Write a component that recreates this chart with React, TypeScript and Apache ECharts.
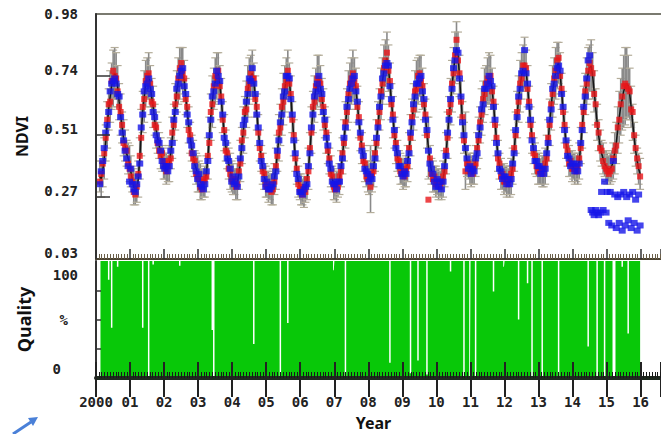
import React, { useEffect, useRef } from 'react';
import * as echarts from 'echarts';

const years = [2000, 2001, 2002, 2003, 2004, 2005, 2006, 2007, 2008, 2009, 2010, 2011, 2012, 2013, 2014, 2015];
const compositeDoy = [1, 17, 33, 49, 65, 81, 97, 113, 129, 145, 161, 177, 193, 209, 225, 241, 257, 273, 289, 305, 321, 337, 353];
const yearTicks = [2000, 2001, 2002, 2003, 2004, 2005, 2006, 2007, 2008, 2009, 2010, 2011, 2012, 2013, 2014, 2015, 2016];
const ndviTickLabels = [0.03, 0.27, 0.51, 0.74];
const ndviTopLabel = [0.98];

const meanNdvi: (number | null)[][] = [
  [null, null, 0.35, 0.34, 0.37, 0.42, 0.48, 0.55, 0.61, 0.66, 0.70, 0.73, 0.75, 0.74, 0.70, 0.64, 0.59, 0.54, 0.50, 0.47, 0.44, 0.42, 0.40],
  [0.37, 0.34, 0.31, 0.30, 0.30, 0.34, 0.42, 0.52, 0.60, 0.66, 0.71, 0.73, 0.74, 0.70, 0.66, 0.62, 0.57, 0.53, 0.50, 0.47, 0.44, 0.42, 0.40],
  [0.39, 0.38, 0.38, 0.40, 0.44, 0.50, 0.56, 0.62, 0.68, 0.72, 0.75, 0.77, 0.76, 0.72, 0.66, 0.60, 0.55, 0.50, 0.46, 0.43, 0.40, 0.38, 0.36],
  [0.35, 0.33, 0.32, 0.32, 0.33, 0.36, 0.42, 0.50, 0.58, 0.64, 0.69, 0.72, 0.74, 0.75, 0.71, 0.65, 0.58, 0.52, 0.47, 0.43, 0.40, 0.37, 0.35],
  [0.34, 0.33, 0.32, 0.33, 0.36, 0.41, 0.47, 0.53, 0.58, 0.63, 0.68, 0.72, 0.74, 0.75, 0.72, 0.66, 0.60, 0.53, 0.47, 0.42, 0.38, 0.35, 0.33],
  [0.32, 0.31, 0.31, 0.30, 0.31, 0.34, 0.38, 0.44, 0.50, 0.55, 0.60, 0.65, 0.69, 0.73, 0.75, 0.72, 0.66, 0.58, 0.50, 0.43, 0.37, 0.33, 0.31],
  [0.30, 0.29, 0.29, 0.30, 0.33, 0.38, 0.45, 0.53, 0.60, 0.65, 0.69, 0.72, 0.73, 0.70, 0.66, 0.61, 0.56, 0.51, 0.46, 0.41, 0.37, 0.34, 0.32],
  [0.31, 0.31, 0.32, 0.34, 0.38, 0.43, 0.49, 0.55, 0.61, 0.66, 0.70, 0.72, 0.74, 0.73, 0.69, 0.63, 0.57, 0.51, 0.46, 0.42, 0.39, 0.36, 0.35],
  [0.34, 0.34, 0.35, 0.38, 0.43, 0.49, 0.55, 0.61, 0.67, 0.72, 0.76, 0.79, 0.81, 0.77, 0.71, 0.64, 0.58, 0.52, 0.47, 0.43, 0.40, 0.38, 0.37],
  [0.36, 0.36, 0.37, 0.40, 0.45, 0.51, 0.57, 0.62, 0.67, 0.70, 0.72, 0.74, 0.73, 0.69, 0.64, 0.58, 0.52, 0.46, 0.41, 0.37, 0.35, 0.34, 0.33],
  [0.33, 0.32, 0.32, 0.32, 0.34, 0.38, 0.44, 0.51, 0.58, 0.64, 0.70, 0.76, 0.81, 0.85, 0.82, 0.74, 0.65, 0.57, 0.50, 0.45, 0.41, 0.39, 0.38],
  [0.37, 0.37, 0.38, 0.41, 0.45, 0.50, 0.55, 0.60, 0.64, 0.68, 0.70, 0.72, 0.73, 0.73, 0.69, 0.63, 0.56, 0.49, 0.43, 0.39, 0.36, 0.35, 0.34],
  [0.34, 0.33, 0.33, 0.33, 0.35, 0.39, 0.45, 0.52, 0.59, 0.65, 0.70, 0.74, 0.77, 0.79, 0.76, 0.70, 0.63, 0.56, 0.50, 0.45, 0.42, 0.40, 0.38],
  [0.38, 0.37, 0.37, 0.37, 0.39, 0.43, 0.49, 0.56, 0.62, 0.68, 0.72, 0.75, 0.78, 0.79, 0.75, 0.68, 0.61, 0.54, 0.48, 0.44, 0.41, 0.40, 0.39],
  [0.39, 0.38, 0.38, 0.38, 0.41, 0.47, 0.54, 0.61, 0.67, 0.72, 0.75, 0.77, 0.78, 0.74, 0.68, 0.62, 0.56, 0.51, 0.47, 0.44, 0.42, 0.40, 0.39],
  [0.38, 0.38, 0.38, 0.39, 0.41, 0.44, 0.48, 0.53, 0.58, 0.62, 0.65, 0.68, 0.70, 0.71, 0.70, 0.67, 0.62, 0.56, 0.50, 0.45, 0.41, 0.38, 0.36],
];

const terraNdvi: (number | null)[][] = [
  [null, null, 0.33, 0.36, 0.40, 0.44, 0.50, 0.57, 0.63, 0.64, 0.72, 0.76, 0.74, 0.73, 0.68, 0.62, 0.60, 0.55, 0.48, 0.46, 0.45, 0.40, 0.38],
  [0.35, 0.33, 0.29, 0.28, 0.31, 0.36, 0.43, 0.50, 0.62, 0.65, 0.72, 0.74, 0.75, 0.71, 0.64, 0.63, 0.55, 0.54, 0.48, 0.45, 0.43, 0.44, 0.41],
  [0.40, 0.37, 0.39, 0.41, 0.42, 0.52, 0.55, 0.63, 0.66, 0.73, 0.77, 0.79, 0.75, 0.73, 0.65, 0.62, 0.53, 0.51, 0.44, 0.42, 0.41, 0.36, 0.35],
  [0.34, 0.31, 0.30, 0.33, 0.34, 0.35, 0.43, 0.48, 0.60, 0.63, 0.70, 0.74, 0.73, 0.76, 0.70, 0.66, 0.57, 0.53, 0.45, 0.44, 0.38, 0.36, 0.34],
  [0.33, 0.34, 0.31, 0.32, 0.37, 0.40, 0.49, 0.52, 0.60, 0.61, 0.69, 0.71, 0.75, 0.73, 0.73, 0.65, 0.62, 0.52, 0.46, 0.43, 0.37, 0.36, 0.32],
  [0.31, 0.30, 0.32, 0.29, 0.30, 0.33, 0.39, 0.43, 0.52, 0.54, 0.62, 0.64, 0.70, 0.72, 0.76, 0.71, 0.67, 0.57, 0.51, 0.42, 0.38, 0.32, 0.30],
  [0.31, 0.28, 0.30, 0.29, 0.34, 0.37, 0.46, 0.52, 0.62, 0.64, 0.70, 0.73, 0.72, 0.71, 0.65, 0.62, 0.55, 0.52, 0.45, 0.42, 0.36, 0.35, 0.31],
  [0.30, 0.32, 0.31, 0.35, 0.37, 0.44, 0.48, 0.56, 0.60, 0.67, 0.71, 0.73, 0.75, 0.72, 0.70, 0.62, 0.58, 0.50, 0.47, 0.41, 0.40, 0.35, 0.34],
  [0.35, 0.31, 0.36, 0.37, 0.44, 0.48, 0.56, 0.60, 0.68, 0.71, 0.77, 0.80, 0.83, 0.76, 0.72, 0.63, 0.59, 0.51, 0.48, 0.42, 0.41, 0.37, 0.36],
  [0.37, 0.35, 0.38, 0.39, 0.46, 0.50, 0.58, 0.61, 0.68, 0.69, 0.74, 0.75, 0.72, 0.70, 0.63, 0.59, 0.51, 0.26, 0.42, 0.36, 0.34, 0.35, 0.32],
  [0.32, 0.33, 0.31, 0.33, 0.35, 0.37, 0.45, 0.50, 0.60, 0.63, 0.71, 0.75, 0.82, 0.88, 0.80, 0.75, 0.64, 0.58, 0.49, 0.37, 0.40, 0.40, 0.37],
  [0.38, 0.36, 0.39, 0.40, 0.46, 0.49, 0.56, 0.59, 0.65, 0.67, 0.71, 0.73, 0.72, 0.74, 0.68, 0.64, 0.55, 0.50, 0.42, 0.40, 0.35, 0.36, 0.33],
  [0.33, 0.34, 0.32, 0.34, 0.36, 0.38, 0.46, 0.51, 0.60, 0.64, 0.71, 0.73, 0.78, 0.78, 0.77, 0.69, 0.64, 0.55, 0.51, 0.44, 0.43, 0.39, 0.37],
  [0.37, 0.38, 0.36, 0.38, 0.40, 0.42, 0.50, 0.55, 0.63, 0.67, 0.73, 0.76, 0.80, 0.81, 0.74, 0.69, 0.60, 0.55, 0.47, 0.45, 0.40, 0.41, 0.38],
  [0.38, 0.39, 0.37, 0.39, 0.42, 0.46, 0.55, 0.60, 0.68, 0.71, 0.76, 0.79, 0.77, 0.75, 0.67, 0.63, 0.55, 0.52, 0.46, 0.45, 0.41, 0.39, 0.38],
  [0.37, 0.36, 0.37, 0.38, 0.42, 0.45, 0.47, 0.54, 0.57, 0.63, 0.66, 0.70, 0.71, 0.70, 0.69, 0.68, 0.61, 0.60, 0.51, 0.46, 0.42, 0.39, 0.35],
];

const aquaNdvi: (number | null)[][] = [
  [null, null, 0.32, 0.37, 0.41, 0.46, 0.52, 0.55, 0.60, 0.68, 0.71, 0.72, 0.73, 0.71, 0.67, 0.66, 0.58, 0.52, 0.49, 0.45, 0.42, 0.39, 0.33],
  [0.38, 0.32, 0.30, 0.29, 0.32, 0.35, 0.40, 0.54, 0.59, 0.68, 0.70, 0.71, 0.73, 0.69, 0.67, 0.60, 0.58, 0.51, 0.49, 0.48, 0.45, 0.41, 0.39],
  [0.38, 0.39, 0.37, 0.39, 0.45, 0.48, 0.57, 0.60, 0.69, 0.71, 0.74, 0.76, 0.77, 0.70, 0.67, 0.59, 0.56, 0.49, 0.47, 0.44, 0.39, 0.37, 0.34],
  [0.36, 0.32, 0.31, 0.30, 0.32, 0.37, 0.41, 0.51, 0.57, 0.66, 0.68, 0.71, 0.76, 0.74, 0.72, 0.64, 0.59, 0.50, 0.48, 0.42, 0.41, 0.38, 0.33],
  [0.35, 0.32, 0.33, 0.31, 0.35, 0.42, 0.46, 0.55, 0.57, 0.64, 0.67, 0.73, 0.72, 0.77, 0.71, 0.67, 0.59, 0.54, 0.48, 0.41, 0.39, 0.34, 0.31],
  [0.33, 0.30, 0.30, 0.31, 0.32, 0.35, 0.37, 0.45, 0.49, 0.56, 0.59, 0.66, 0.68, 0.74, 0.74, 0.73, 0.65, 0.59, 0.49, 0.44, 0.36, 0.34, 0.29],
  [0.29, 0.28, 0.30, 0.31, 0.32, 0.39, 0.44, 0.54, 0.59, 0.66, 0.68, 0.71, 0.74, 0.69, 0.67, 0.60, 0.57, 0.50, 0.47, 0.40, 0.38, 0.33, 0.32],
  [0.32, 0.30, 0.33, 0.33, 0.39, 0.42, 0.50, 0.54, 0.62, 0.65, 0.69, 0.71, 0.73, 0.74, 0.68, 0.64, 0.56, 0.52, 0.45, 0.43, 0.38, 0.37, 0.36],
  [0.33, 0.35, 0.34, 0.39, 0.42, 0.50, 0.54, 0.62, 0.66, 0.73, 0.75, 0.78, 0.79, 0.78, 0.70, 0.65, 0.57, 0.53, 0.46, 0.44, 0.39, 0.39, 0.36],
  [0.35, 0.37, 0.36, 0.41, 0.44, 0.52, 0.56, 0.63, 0.66, 0.71, 0.71, 0.73, 0.74, 0.68, 0.65, 0.57, 0.53, 0.45, 0.40, 0.38, 0.36, 0.33, 0.31],
  [0.34, 0.31, 0.33, 0.30, 0.33, 0.39, 0.43, 0.52, 0.57, 0.65, 0.69, 0.77, 0.80, 0.84, 0.83, 0.73, 0.66, 0.56, 0.51, 0.46, 0.42, 0.38, 0.39],
  [0.36, 0.38, 0.37, 0.42, 0.44, 0.51, 0.54, 0.61, 0.63, 0.69, 0.69, 0.71, 0.74, 0.72, 0.70, 0.62, 0.57, 0.48, 0.44, 0.38, 0.37, 0.34, 0.35],
  [0.35, 0.32, 0.34, 0.32, 0.34, 0.40, 0.44, 0.53, 0.58, 0.66, 0.69, 0.75, 0.76, 0.84, 0.75, 0.71, 0.62, 0.57, 0.49, 0.46, 0.41, 0.41, 0.39],
  [0.39, 0.36, 0.38, 0.36, 0.38, 0.44, 0.48, 0.57, 0.61, 0.69, 0.71, 0.74, 0.77, 0.78, 0.76, 0.67, 0.62, 0.53, 0.49, 0.43, 0.42, 0.39, 0.40],
  [0.40, 0.37, 0.39, 0.37, 0.40, 0.48, 0.53, 0.62, 0.66, 0.73, 0.80, 0.82, 0.22, 0.21, 0.20, 0.22, 0.21, 0.20, 0.21, 0.29, 0.22, 0.33, 0.21],
  [0.29, 0.17, 0.29, 0.16, 0.41, 0.28, 0.15, 0.27, 0.17, 0.28, 0.14, 0.29, 0.16, 0.27, 0.18, 0.28, 0.15, 0.29, 0.17, 0.26, 0.14, 0.28, 0.16],
];

// standard deviation, in hundredths of NDVI
const sdNdvi: number[][] = [
  [0, 0, 6, 7, 6, 8, 7, 9, 8, 10, 9, 11, 10, 9, 8, 7, 8, 6, 7, 6, 5, 6, 7],
  [6, 5, 7, 6, 5, 7, 8, 9, 8, 10, 9, 8, 9, 8, 7, 8, 6, 7, 6, 5, 6, 5, 6],
  [5, 6, 5, 7, 6, 8, 7, 9, 8, 9, 10, 8, 9, 8, 7, 6, 7, 6, 5, 6, 5, 6, 7],
  [6, 7, 6, 5, 6, 7, 8, 8, 9, 10, 8, 9, 9, 8, 7, 8, 6, 7, 6, 5, 6, 7, 6],
  [6, 5, 6, 7, 6, 8, 7, 9, 8, 9, 10, 9, 8, 9, 7, 8, 7, 6, 6, 5, 6, 5, 6],
  [5, 6, 5, 6, 7, 6, 8, 7, 9, 8, 9, 10, 9, 8, 9, 7, 8, 6, 7, 6, 5, 6, 5],
  [6, 5, 6, 5, 7, 8, 7, 9, 8, 9, 8, 10, 9, 8, 7, 8, 6, 7, 6, 5, 6, 5, 6],
  [5, 6, 5, 6, 7, 7, 8, 9, 8, 10, 9, 9, 10, 8, 8, 7, 7, 6, 6, 5, 6, 5, 6],
  [6, 13, 6, 7, 6, 8, 9, 8, 10, 9, 10, 9, 10, 9, 8, 7, 8, 6, 7, 6, 5, 6, 5],
  [6, 5, 6, 7, 7, 8, 8, 9, 9, 10, 9, 8, 9, 8, 7, 7, 6, 12, 6, 5, 6, 5, 6],
  [5, 6, 5, 6, 7, 7, 8, 9, 8, 9, 10, 9, 10, 10, 9, 8, 7, 7, 6, 15, 6, 5, 6],
  [6, 5, 6, 6, 7, 8, 7, 9, 8, 9, 8, 9, 10, 9, 8, 7, 7, 6, 6, 5, 6, 5, 6],
  [5, 6, 5, 6, 7, 7, 8, 8, 9, 9, 10, 9, 9, 10, 8, 8, 7, 6, 6, 5, 6, 5, 6],
  [6, 5, 6, 6, 7, 8, 8, 9, 9, 10, 9, 10, 9, 8, 8, 7, 7, 6, 6, 5, 6, 5, 6],
  [5, 6, 5, 6, 7, 7, 8, 9, 8, 9, 10, 9, 10, 9, 8, 7, 7, 6, 6, 5, 6, 5, 6],
  [6, 5, 6, 6, 7, 8, 8, 9, 10, 11, 12, 14, 15, 14, 12, 10, 8, 7, 6, 6, 5, 6, 6],
];

// composites whose quality is below 100 %: [year, composite index, percent]
const qualityLow: [number, number, number][] = [
  [2000, 2, 0], [2000, 8, 84], [2000, 10, 43], [2000, 14, 95],
  [2001, 8, 43], [2001, 12, 0], [2001, 15, 97],
  [2002, 10, 96],
  [2003, 9, 41], [2003, 10, 0],
  [2004, 14, 29],
  [2005, 9, 0], [2005, 14, 47],
  [2006, 22, 92],
  [2007, 7, 0],
  [2008, 14, 13],
  [2009, 5, 4], [2009, 10, 15], [2009, 16, 3],
  [2010, 9, 91], [2010, 18, 0], [2010, 22, 0],
  [2011, 3, 0], [2011, 15, 74], [2011, 22, 95],
  [2012, 9, 50], [2012, 15, 81], [2012, 18, 0],
  [2013, 2, 0], [2013, 13, 0],
  [2014, 10, 27], [2014, 16, 0], [2014, 21, 0],
  [2015, 4, 0], [2015, 5, 0], [2015, 10, 95], [2015, 14, 38],
];

const tOf = (y: number, i: number) => y + (compositeDoy[i] + 7) / 365;

function buildSeries() {
  const mean: number[][] = [];
  const err: number[][] = [];
  const terra: number[][] = [];
  const aqua: number[][] = [];
  const quality: number[][] = [];
  years.forEach((y, yi) => {
    compositeDoy.forEach((_, i) => {
      const t = tOf(y, i);
      const m = meanNdvi[yi][i];
      if (m !== null) {
        mean.push([t, m]);
        err.push([t, m, sdNdvi[yi][i] / 100]);
        const low = qualityLow.find((q) => q[0] === y && q[1] === i);
        quality.push([t, low ? low[2] : 100]);
      }
      const r = terraNdvi[yi][i];
      if (r !== null) terra.push([t, r]);
      const b = aquaNdvi[yi][i];
      if (b !== null) aqua.push([t, b]);
    });
  });
  return { mean, err, terra, aqua, quality };
}

const monoFont = 'DejaVu Sans Mono';
const sansFont = 'Noto Sans';

export default function App() {
  const ref = useRef<HTMLDivElement>(null);
  useEffect(() => {
    if (!ref.current) return;
    const chart = echarts.init(ref.current, undefined, { renderer: 'svg' });
    const d = buildSeries();
    const xMin = 2000;
    const xMax = 2016.6;
    const yearFmt = (v: number) => {
      if (!yearTicks.includes(v)) return '';
      return v === 2000 ? '2000' : String(v - 2000).padStart(2, '0');
    };
    const labelStyle = { fontFamily: monoFont, fontWeight: 'bold' as const, fontSize: 14, color: '#222' };
    const gridBase = { containLabel: false, outerBoundsMode: 'none' };
    const option: any = {
      animation: false,
      backgroundColor: '#ffffff',
      grid: [
        { ...gridBase, left: 96, top: 14, width: 565, height: 245 },
        { ...gridBase, left: 96, top: 261, width: 565, height: 117 },
      ],
      xAxis: [
        {
          gridIndex: 0, type: 'value', min: xMin, max: xMax, interval: 1, position: 'bottom', z: 5,
          axisLine: { show: true, onZero: false, lineStyle: { color: '#4d4433', width: 2 } },
          axisTick: { show: true, inside: true, length: 10, lineStyle: { color: '#333', width: 1.5 } },
          minorTick: { show: true, splitNumber: 12, length: 5, lineStyle: { color: '#6b604a', width: 1 } },
          axisLabel: { show: false }, splitLine: { show: false },
        },
        {
          gridIndex: 0, type: 'value', min: xMin, max: xMax, interval: 1, position: 'top',
          axisLine: { show: true, onZero: false, lineStyle: { color: '#7a7a70', width: 2 } },
          axisTick: { show: false }, axisLabel: { show: false }, splitLine: { show: false },
        },
        {
          gridIndex: 1, type: 'value', min: xMin, max: xMax, interval: 1, position: 'bottom', z: 5,
          axisLine: { show: true, onZero: false, lineStyle: { color: '#1f2a1f', width: 4 } },
          axisTick: { show: true, inside: true, length: 16, lineStyle: { color: '#222', width: 2 } },
          minorTick: { show: true, splitNumber: 12, length: 6, lineStyle: { color: '#1a1a1a', width: 1 } },
          axisLabel: { show: false }, splitLine: { show: false },
        },
        {
          gridIndex: 1, type: 'value', min: xMin, max: xMax, interval: 1, position: 'bottom', z: 5,
          axisLine: { show: false, onZero: false },
          axisTick: { show: true, inside: false, length: 19, lineStyle: { color: '#222', width: 2 } },
          axisLabel: { show: true, formatter: yearFmt, margin: 17, lineHeight: 14, ...labelStyle },
          splitLine: { show: false },
          name: 'Year', nameLocation: 'middle', nameGap: 37, nameMoveOverlap: false,
          nameTextStyle: { fontFamily: sansFont, fontWeight: 'bold', fontSize: 16, lineHeight: 16, color: '#111', padding: [0, 10, 0, 0] },
        },
      ],
      yAxis: [
        {
          gridIndex: 0, type: 'value', min: 0.03, max: 0.98, position: 'left', z: 5,
          axisLine: { show: true, onZero: false, lineStyle: { color: '#333', width: 2 } },
          axisTick: { show: true, inside: true, length: 14, customValues: [0.27, 0.51, 0.74], lineStyle: { color: '#333', width: 1.5 } },
          axisLabel: { show: true, customValues: ndviTickLabels, formatter: (v: number) => v.toFixed(2), margin: 18, verticalAlign: 'bottom', lineHeight: 12, ...labelStyle },
          splitLine: { show: false },
          name: 'NDVI', nameLocation: 'middle', nameGap: 66, nameMoveOverlap: false,
          nameTextStyle: { fontFamily: sansFont, fontWeight: 'bold', fontSize: 16, color: '#111' },
        },
        {
          gridIndex: 0, type: 'value', min: 0.03, max: 0.98, position: 'left',
          axisLine: { show: false, onZero: false }, axisTick: { show: false },
          axisLabel: { show: true, customValues: ndviTopLabel, formatter: (v: number) => v.toFixed(2), margin: 18, ...labelStyle },
          splitLine: { show: false },
        },
        {
          gridIndex: 1, type: 'value', min: 0, max: 100, position: 'left', z: 5,
          axisLine: { show: true, onZero: false, lineStyle: { color: '#333', width: 2 } },
          axisTick: { show: true, inside: true, length: 5, customValues: [25, 50, 75], lineStyle: { color: '#333', width: 1.5 } },
          axisLabel: { show: true, customValues: [50], formatter: () => '%', margin: 28, ...labelStyle },
          splitLine: { show: false },
          name: 'Quality', nameLocation: 'middle', nameGap: 63, nameMoveOverlap: false,
          nameTextStyle: { fontFamily: sansFont, fontWeight: 'bold', fontSize: 18, color: '#111' },
        },
        {
          gridIndex: 1, type: 'value', min: 0, max: 100, position: 'left',
          axisLine: { show: false, onZero: false }, axisTick: { show: false },
          axisLabel: { show: true, customValues: [100], formatter: () => '100', margin: 18, verticalAlign: 'top', lineHeight: 28, ...labelStyle },
          splitLine: { show: false },
        },
        {
          gridIndex: 1, type: 'value', min: 0, max: 100, position: 'left',
          axisLine: { show: false, onZero: false }, axisTick: { show: false },
          axisLabel: { show: true, customValues: [0], formatter: () => '0', margin: 35, verticalAlign: 'bottom', lineHeight: 18, ...labelStyle },
          splitLine: { show: false },
        },
      ],
      series: [
        {
          type: 'custom', name: 'sd', xAxisIndex: 0, yAxisIndex: 0, data: d.err, encode: { x: 0, y: 1 }, z: 1,
          renderItem: (_p: any, api: any) => {
            const x = api.value(0);
            const m = api.value(1);
            const s = api.value(2);
            const p1 = api.coord([x, m + s]);
            const p2 = api.coord([x, m - s]);
            const w = 4;
            return {
              type: 'group',
              children: [
                { type: 'line', shape: { x1: p1[0], y1: p1[1], x2: p2[0], y2: p2[1] }, style: { stroke: '#8a8a8a', lineWidth: 1.6 } },
                { type: 'line', shape: { x1: p1[0] - w, y1: p1[1], x2: p1[0] + w, y2: p1[1] }, style: { stroke: '#b4ad9a', lineWidth: 1.2 } },
                { type: 'line', shape: { x1: p2[0] - w, y1: p2[1], x2: p2[0] + w, y2: p2[1] }, style: { stroke: '#b4ad9a', lineWidth: 1.2 } },
              ],
            };
          },
        },
        {
          type: 'line', name: 'mean', xAxisIndex: 0, yAxisIndex: 0, data: d.mean, showSymbol: false, symbol: 'none', z: 2,
          lineStyle: { color: '#151515', width: 1.5 },
        },
        {
          type: 'scatter', name: 'terra', xAxisIndex: 0, yAxisIndex: 0, data: d.terra, symbol: 'rect', symbolSize: [6, 6], z: 3,
          itemStyle: { color: '#e8171a' },
        },
        {
          type: 'scatter', name: 'aqua', xAxisIndex: 0, yAxisIndex: 0, data: d.aqua, symbol: 'rect', symbolSize: [7, 6], z: 4,
          itemStyle: { color: '#1515e8' },
        },
        {
          type: 'line', name: 'quality', xAxisIndex: 2, yAxisIndex: 2, data: d.quality, step: 'middle', showSymbol: false, symbol: 'none', z: 1,
          lineStyle: { width: 0, opacity: 0 },
          areaStyle: { color: '#08c808', opacity: 1 },
        },
      ],
      graphic: [
        { type: 'line', shape: { x1: 13, y1: 434, x2: 31, y2: 422 }, style: { stroke: '#4a80d8', lineWidth: 3 } },
        { type: 'polygon', shape: { points: [[38, 417], [28, 418], [33, 426]] }, style: { fill: '#4a80d8' } },
      ],
    };
    chart.setOption(option);
    return () => chart.dispose();
  }, []);
  return <div ref={ref} style={{ position: 'fixed', left: 0, top: 0, width: 661, height: 434 }} />;
}
